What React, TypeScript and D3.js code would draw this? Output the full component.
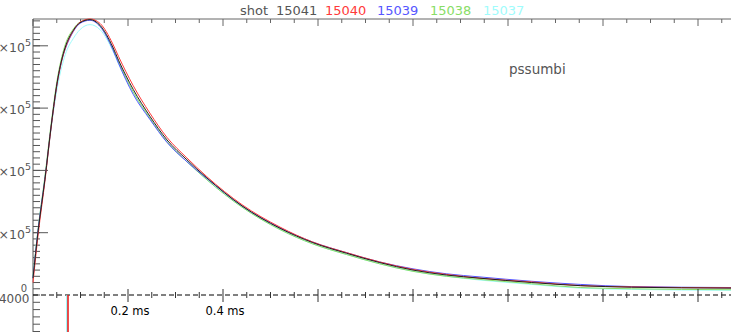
import React from "react";
import * as d3 from "d3";

// time base (ms) shared by all shots
const times = [
  0, 0.011, 0.025, 0.039, 0.051, 0.064, 0.068, 0.085, 0.099, 0.12, 0.141, 0.168,
  0.18, 0.211, 0.246, 0.282, 0.324, 0.366, 0.44, 0.52, 0.589, 0.66, 0.73, 0.8,
  0.871, 0.941, 1.05, 1.152, 1.26, 1.47,
];

// pssumbi, units of 1e5
const shot15041 = [
  0.27, 1.04, 1.85, 2.76, 3.42, 3.88, 3.98, 4.25, 4.37, 4.42, 4.33, 3.98, 3.77,
  3.3, 2.87, 2.49, 2.17, 1.88, 1.43, 1.07, 0.84, 0.67, 0.52, 0.4, 0.32, 0.27,
  0.2, 0.15, 0.125, 0.11,
];
const shot15040 = [
  0.2, 0.98, 1.82, 2.74, 3.4, 3.86, 3.96, 4.24, 4.38, 4.43, 4.36, 4.03, 3.83,
  3.36, 2.92, 2.53, 2.2, 1.9, 1.45, 1.09, 0.85, 0.68, 0.53, 0.41, 0.33, 0.27,
  0.21, 0.15, 0.13, 0.115,
];
const shot15039 = [
  0.28, 1.06, 1.86, 2.75, 3.4, 3.86, 3.95, 4.23, 4.36, 4.41, 4.31, 3.94, 3.72,
  3.22, 2.82, 2.45, 2.14, 1.87, 1.43, 1.08, 0.85, 0.68, 0.53, 0.42, 0.34, 0.29,
  0.22, 0.17, 0.135, 0.12,
];
const shot15038 = [
  0.3, 1.08, 1.9, 2.8, 3.46, 3.92, 4.02, 4.27, 4.38, 4.42, 4.32, 3.95, 3.74,
  3.26, 2.84, 2.46, 2.14, 1.85, 1.41, 1.05, 0.82, 0.65, 0.5, 0.38, 0.3, 0.25,
  0.18, 0.12, 0.1, 0.085,
];
const shot15037 = [
  0.29, 1.07, 1.86, 2.72, 3.32, 3.76, 3.86, 4.12, 4.26, 4.34, 4.26, 3.92, 3.71,
  3.24, 2.83, 2.46, 2.14, 1.85, 1.41, 1.05, 0.82, 0.65, 0.5, 0.38, 0.3, 0.24,
  0.17, 0.11, 0.09, 0.075,
];

const shotNames = ["15041", "15040", "15039", "15038", "15037"];
const shotColors = ["#222222", "#ff3a3a", "#5656ff", "#88dd66", "#9ffcfc"];
const shotValues = [shot15041, shot15040, shot15039, shot15038, shot15037];
const titleX = [276, 325, 377, 430, 483];

// vertical markers in the lower panel (ms)
const markerTimes = [0.0716, 0.0737];
const markerColors = ["#7ff5f5", "#ee1111"];

const yMajor = [1, 2, 3, 4];
const xLabels = [0.2, 0.4];

export default function App() {
  const W = 731;
  const H = 332;
  const font = "DejaVu Sans, sans-serif";

  const x = d3.scaleLinear().domain([0, 1]).range([33, 508]);
  const y = d3.scaleLinear().domain([0, 1]).range([295, 232.7]);
  const yLow = d3.scaleLinear().domain([-4000, -9000]).range([295, 331.5]);

  const xMax = x.invert(W);
  const yTop = 19;
  const majorX = d3.range(0, xMax, 0.2);
  const minorX = d3.range(0, xMax, 0.05).filter((t) => Math.abs(t / 0.2 - Math.round(t / 0.2)) > 1e-6);
  const minorY = d3.range(0, y.invert(yTop), 0.1);
  const minorLow = d3.range(-5000, -9500, -1000);

  const line = d3
    .line<number>()
    .x((_, i) => x(times[i]))
    .y((v) => y(v))
    .curve(d3.curveMonotoneX);

  const order = [4, 3, 2, 1, 0];

  return (
    <svg
      width={W}
      height={H}
      style={{ position: "absolute", left: 0, top: 0, background: "#fff" }}
      fontFamily={font}
    >
      {/* title */}
      <text x={240} y={15} fontSize={13} fill="#555">shot</text>
      {shotNames.map((n, i) => (
        <text key={n} x={titleX[i]} y={15} fontSize={13} fill={i === 0 ? "#555" : shotColors[i]}>
          {n}
        </text>
      ))}

      {/* top axis */}
      <line x1={33} x2={W} y1={yTop} y2={yTop} stroke="#666" />
      {majorX.map((t) => (
        <line key={"tM" + t} x1={x(t)} x2={x(t)} y1={yTop} y2={yTop + 7} stroke="#666" />
      ))}
      {minorX.map((t) => (
        <line key={"tm" + t} x1={x(t)} x2={x(t)} y1={yTop} y2={yTop + 4} stroke="#666" />
      ))}

      {/* left axis */}
      <line x1={33} x2={33} y1={yTop} y2={H} stroke="#555" />
      {minorY.map((v) => (
        <line key={"ym" + v} x1={33} x2={40} y1={y(v)} y2={y(v)} stroke="#555" />
      ))}
      {yMajor.map((v) => (
        <g key={"yM" + v}>
          <line x1={33} x2={48} y1={y(v)} y2={y(v)} stroke="#555" />
          <text x={31} y={y(v) + 6} fontSize={12.5} fill="#555" textAnchor="end">
            {v}×10<tspan dy={-6} fontSize={9.5}>5</tspan>
          </text>
        </g>
      ))}
      <text x={27} y={292} fontSize={10} fill="#555" textAnchor="end">0</text>
      {minorLow.map((v) => (
        <line key={"yl" + v} x1={33} x2={40} y1={yLow(v)} y2={yLow(v)} stroke="#555" />
      ))}
      <text x={29.5} y={yLow(-4000) + 8} fontSize={12} fill="#555" textAnchor="end">−4000</text>

      {/* label */}
      <text x={509} y={74} fontSize={13.5} fill="#555">pssumbi</text>

      {/* curves */}
      {order.map((i) => (
        <path key={shotNames[i]} d={line(shotValues[i]) || ""} fill="none" stroke={shotColors[i]} strokeWidth={1} />
      ))}

      {/* zero line with ticks */}
      <line x1={33} x2={W} y1={y(0)} y2={y(0)} stroke="#000" strokeDasharray="5,3" />
      {majorX.filter((t) => t > 0).map((t) => (
        <line key={"zM" + t} x1={x(t)} x2={x(t)} y1={y(0) - 6} y2={y(0) + 7} stroke="#333" />
      ))}
      {minorX.map((t) => (
        <line key={"zm" + t} x1={x(t)} x2={x(t)} y1={y(0) - 3} y2={y(0) + 3} stroke="#333" />
      ))}
      {xLabels.map((t) => (
        <text key={"xl" + t} x={x(t) + 2} y={315} fontSize={11.5} fill="#000" textAnchor="middle">
          {t.toFixed(1)} ms
        </text>
      ))}

      {/* markers */}
      {markerTimes.map((t, i) => (
        <line key={"mk" + i} x1={x(t)} x2={x(t)} y1={y(0)} y2={H} stroke={markerColors[i]} strokeWidth={1.5} />
      ))}
    </svg>
  );
}
